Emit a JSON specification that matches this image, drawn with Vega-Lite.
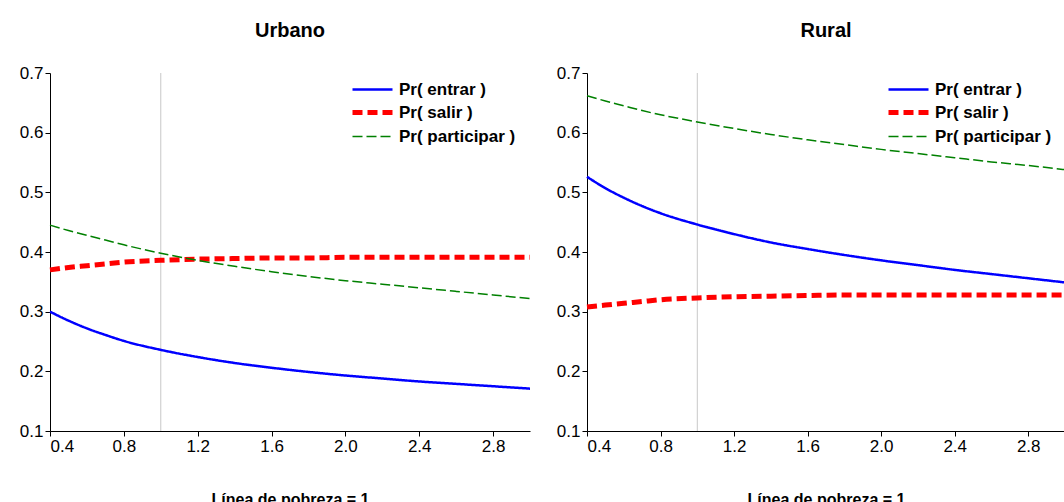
{
  "$schema": "https://vega.github.io/schema/vega-lite/v6.json",
  "padding": {"left": 19, "top": 21, "right": 0, "bottom": 0},
  "config": {
    "font": "Liberation Sans",
    "view": {"stroke": null},
    "axis": {"domainColor": "#000", "tickColor": "#000", "labelColor": "#000", "labelFontSize": 17, "grid": false, "tickSize": 5, "labelPadding": 2, "titleColor": "#000"},
    "title": {"fontSize": 20, "fontWeight": "bold", "color": "#000", "offset": 23},
    "concat": {"spacing": 16}
  },
  "datasets": {
    "ref": [{"x": 1}],
    "curvas": [
      {"zona": "Urbano", "serie": "Pr( entrar )", "x": 0.4, "p": 0.300},
      {"zona": "Urbano", "serie": "Pr( entrar )", "x": 0.5, "p": 0.285},
      {"zona": "Urbano", "serie": "Pr( entrar )", "x": 0.6, "p": 0.272},
      {"zona": "Urbano", "serie": "Pr( entrar )", "x": 0.7, "p": 0.261},
      {"zona": "Urbano", "serie": "Pr( entrar )", "x": 0.8, "p": 0.251},
      {"zona": "Urbano", "serie": "Pr( entrar )", "x": 1.0, "p": 0.236},
      {"zona": "Urbano", "serie": "Pr( entrar )", "x": 1.2, "p": 0.224},
      {"zona": "Urbano", "serie": "Pr( entrar )", "x": 1.4, "p": 0.214},
      {"zona": "Urbano", "serie": "Pr( entrar )", "x": 1.6, "p": 0.206},
      {"zona": "Urbano", "serie": "Pr( entrar )", "x": 1.8, "p": 0.199},
      {"zona": "Urbano", "serie": "Pr( entrar )", "x": 2.0, "p": 0.193},
      {"zona": "Urbano", "serie": "Pr( entrar )", "x": 2.2, "p": 0.188},
      {"zona": "Urbano", "serie": "Pr( entrar )", "x": 2.4, "p": 0.183},
      {"zona": "Urbano", "serie": "Pr( entrar )", "x": 2.6, "p": 0.179},
      {"zona": "Urbano", "serie": "Pr( entrar )", "x": 2.8, "p": 0.175},
      {"zona": "Urbano", "serie": "Pr( entrar )", "x": 3.0, "p": 0.171},
      {"zona": "Urbano", "serie": "Pr( salir )", "x": 0.4, "p": 0.370},
      {"zona": "Urbano", "serie": "Pr( salir )", "x": 0.5, "p": 0.374},
      {"zona": "Urbano", "serie": "Pr( salir )", "x": 0.6, "p": 0.377},
      {"zona": "Urbano", "serie": "Pr( salir )", "x": 0.7, "p": 0.380},
      {"zona": "Urbano", "serie": "Pr( salir )", "x": 0.8, "p": 0.383},
      {"zona": "Urbano", "serie": "Pr( salir )", "x": 1.0, "p": 0.386},
      {"zona": "Urbano", "serie": "Pr( salir )", "x": 1.2, "p": 0.388},
      {"zona": "Urbano", "serie": "Pr( salir )", "x": 1.4, "p": 0.389},
      {"zona": "Urbano", "serie": "Pr( salir )", "x": 1.6, "p": 0.390},
      {"zona": "Urbano", "serie": "Pr( salir )", "x": 1.8, "p": 0.390},
      {"zona": "Urbano", "serie": "Pr( salir )", "x": 2.0, "p": 0.391},
      {"zona": "Urbano", "serie": "Pr( salir )", "x": 2.2, "p": 0.391},
      {"zona": "Urbano", "serie": "Pr( salir )", "x": 2.4, "p": 0.391},
      {"zona": "Urbano", "serie": "Pr( salir )", "x": 2.6, "p": 0.391},
      {"zona": "Urbano", "serie": "Pr( salir )", "x": 2.8, "p": 0.391},
      {"zona": "Urbano", "serie": "Pr( salir )", "x": 3.0, "p": 0.391},
      {"zona": "Urbano", "serie": "Pr( participar )", "x": 0.4, "p": 0.445},
      {"zona": "Urbano", "serie": "Pr( participar )", "x": 0.5, "p": 0.436},
      {"zona": "Urbano", "serie": "Pr( participar )", "x": 0.6, "p": 0.428},
      {"zona": "Urbano", "serie": "Pr( participar )", "x": 0.7, "p": 0.420},
      {"zona": "Urbano", "serie": "Pr( participar )", "x": 0.8, "p": 0.412},
      {"zona": "Urbano", "serie": "Pr( participar )", "x": 1.0, "p": 0.398},
      {"zona": "Urbano", "serie": "Pr( participar )", "x": 1.2, "p": 0.386},
      {"zona": "Urbano", "serie": "Pr( participar )", "x": 1.4, "p": 0.376},
      {"zona": "Urbano", "serie": "Pr( participar )", "x": 1.6, "p": 0.367},
      {"zona": "Urbano", "serie": "Pr( participar )", "x": 1.8, "p": 0.359},
      {"zona": "Urbano", "serie": "Pr( participar )", "x": 2.0, "p": 0.352},
      {"zona": "Urbano", "serie": "Pr( participar )", "x": 2.2, "p": 0.346},
      {"zona": "Urbano", "serie": "Pr( participar )", "x": 2.4, "p": 0.340},
      {"zona": "Urbano", "serie": "Pr( participar )", "x": 2.6, "p": 0.334},
      {"zona": "Urbano", "serie": "Pr( participar )", "x": 2.8, "p": 0.328},
      {"zona": "Urbano", "serie": "Pr( participar )", "x": 3.0, "p": 0.322},
      {"zona": "Rural", "serie": "Pr( entrar )", "x": 0.4, "p": 0.526},
      {"zona": "Rural", "serie": "Pr( entrar )", "x": 0.5, "p": 0.507},
      {"zona": "Rural", "serie": "Pr( entrar )", "x": 0.6, "p": 0.491},
      {"zona": "Rural", "serie": "Pr( entrar )", "x": 0.7, "p": 0.477},
      {"zona": "Rural", "serie": "Pr( entrar )", "x": 0.8, "p": 0.465},
      {"zona": "Rural", "serie": "Pr( entrar )", "x": 1.0, "p": 0.446},
      {"zona": "Rural", "serie": "Pr( entrar )", "x": 1.2, "p": 0.430},
      {"zona": "Rural", "serie": "Pr( entrar )", "x": 1.4, "p": 0.416},
      {"zona": "Rural", "serie": "Pr( entrar )", "x": 1.6, "p": 0.405},
      {"zona": "Rural", "serie": "Pr( entrar )", "x": 1.8, "p": 0.395},
      {"zona": "Rural", "serie": "Pr( entrar )", "x": 2.0, "p": 0.386},
      {"zona": "Rural", "serie": "Pr( entrar )", "x": 2.2, "p": 0.378},
      {"zona": "Rural", "serie": "Pr( entrar )", "x": 2.4, "p": 0.370},
      {"zona": "Rural", "serie": "Pr( entrar )", "x": 2.6, "p": 0.363},
      {"zona": "Rural", "serie": "Pr( entrar )", "x": 2.8, "p": 0.356},
      {"zona": "Rural", "serie": "Pr( entrar )", "x": 3.0, "p": 0.349},
      {"zona": "Rural", "serie": "Pr( salir )", "x": 0.4, "p": 0.308},
      {"zona": "Rural", "serie": "Pr( salir )", "x": 0.5, "p": 0.311},
      {"zona": "Rural", "serie": "Pr( salir )", "x": 0.6, "p": 0.314},
      {"zona": "Rural", "serie": "Pr( salir )", "x": 0.7, "p": 0.317},
      {"zona": "Rural", "serie": "Pr( salir )", "x": 0.8, "p": 0.320},
      {"zona": "Rural", "serie": "Pr( salir )", "x": 1.0, "p": 0.323},
      {"zona": "Rural", "serie": "Pr( salir )", "x": 1.2, "p": 0.325},
      {"zona": "Rural", "serie": "Pr( salir )", "x": 1.4, "p": 0.326},
      {"zona": "Rural", "serie": "Pr( salir )", "x": 1.6, "p": 0.327},
      {"zona": "Rural", "serie": "Pr( salir )", "x": 1.8, "p": 0.328},
      {"zona": "Rural", "serie": "Pr( salir )", "x": 2.0, "p": 0.328},
      {"zona": "Rural", "serie": "Pr( salir )", "x": 2.2, "p": 0.328},
      {"zona": "Rural", "serie": "Pr( salir )", "x": 2.4, "p": 0.328},
      {"zona": "Rural", "serie": "Pr( salir )", "x": 2.6, "p": 0.328},
      {"zona": "Rural", "serie": "Pr( salir )", "x": 2.8, "p": 0.328},
      {"zona": "Rural", "serie": "Pr( salir )", "x": 3.0, "p": 0.328},
      {"zona": "Rural", "serie": "Pr( participar )", "x": 0.4, "p": 0.662},
      {"zona": "Rural", "serie": "Pr( participar )", "x": 0.5, "p": 0.653},
      {"zona": "Rural", "serie": "Pr( participar )", "x": 0.6, "p": 0.645},
      {"zona": "Rural", "serie": "Pr( participar )", "x": 0.7, "p": 0.637},
      {"zona": "Rural", "serie": "Pr( participar )", "x": 0.8, "p": 0.630},
      {"zona": "Rural", "serie": "Pr( participar )", "x": 1.0, "p": 0.618},
      {"zona": "Rural", "serie": "Pr( participar )", "x": 1.2, "p": 0.607},
      {"zona": "Rural", "serie": "Pr( participar )", "x": 1.4, "p": 0.597},
      {"zona": "Rural", "serie": "Pr( participar )", "x": 1.6, "p": 0.588},
      {"zona": "Rural", "serie": "Pr( participar )", "x": 1.8, "p": 0.580},
      {"zona": "Rural", "serie": "Pr( participar )", "x": 2.0, "p": 0.572},
      {"zona": "Rural", "serie": "Pr( participar )", "x": 2.2, "p": 0.565},
      {"zona": "Rural", "serie": "Pr( participar )", "x": 2.4, "p": 0.558},
      {"zona": "Rural", "serie": "Pr( participar )", "x": 2.6, "p": 0.551},
      {"zona": "Rural", "serie": "Pr( participar )", "x": 2.8, "p": 0.545},
      {"zona": "Rural", "serie": "Pr( participar )", "x": 3.0, "p": 0.538}
    ]
  },
  "hconcat": [
    {
      "title": "Urbano",
      "width": 480,
      "height": 358,
      "layer": [
        {
          "data": {"name": "ref"},
          "mark": {"type": "rule", "color": "#c8c8c8", "strokeWidth": 1},
          "encoding": {"x": {"field": "x", "type": "quantitative", "scale": {"domain": [0.4, 3.0], "nice": false, "zero": false}}}
        },
        {
          "data": {"name": "curvas"},
          "transform": [{"filter": "datum.zona === 'Urbano'"}],
          "mark": {"type": "line", "interpolate": "monotone"},
          "encoding": {
            "x": {"field": "x", "type": "quantitative", "scale": {"domain": [0.4, 3.0], "nice": false, "zero": false}, "axis": {"values": [0.4, 0.8, 1.2, 1.6, 2.0, 2.4, 2.8], "format": ".1f", "title": "Línea de pobreza = 1", "titleFontSize": 16, "titleFontWeight": "bold", "titlePadding": 37}},
            "y": {"field": "p", "type": "quantitative", "scale": {"domain": [0.1, 0.7], "nice": false, "zero": false}, "axis": {"values": [0.1, 0.2, 0.3, 0.4, 0.5, 0.6, 0.7], "format": ".1f", "title": null}},
            "color": {"field": "serie", "type": "nominal", "scale": {"domain": ["Pr( entrar )", "Pr( salir )", "Pr( participar )"], "range": ["#0000ff", "#ff0000", "#008000"]}, "legend": {"title": null, "orient": "none", "legendX": 314, "legendY": 8, "symbolType": "M-4,0H4", "symbolSize": 100, "labelOffset": 18, "labelFontSize": 17, "labelFontWeight": "bold", "labelColor": "#000", "rowPadding": 4}},
            "strokeDash": {"field": "serie", "type": "nominal", "scale": {"domain": ["Pr( entrar )", "Pr( salir )", "Pr( participar )"], "range": [[1, 0], [10, 5], [10, 4]]}, "legend": {"title": null, "orient": "none", "legendX": 314, "legendY": 8, "symbolType": "M-4,0H4", "symbolSize": 100, "labelOffset": 18, "labelFontSize": 17, "labelFontWeight": "bold", "labelColor": "#000", "rowPadding": 4}},
            "strokeWidth": {"field": "serie", "type": "nominal", "scale": {"type": "ordinal", "domain": ["Pr( entrar )", "Pr( salir )", "Pr( participar )"], "range": [2.5, 5, 1.5]}, "legend": {"title": null, "orient": "none", "legendX": 314, "legendY": 8, "symbolType": "M-4,0H4", "symbolSize": 100, "labelOffset": 18, "labelFontSize": 17, "labelFontWeight": "bold", "labelColor": "#000", "rowPadding": 4}}
          }
        }
      ]
    },
    {
      "title": "Rural",
      "width": 478,
      "height": 358,
      "layer": [
        {
          "data": {"name": "ref"},
          "mark": {"type": "rule", "color": "#c8c8c8", "strokeWidth": 1},
          "encoding": {"x": {"field": "x", "type": "quantitative", "scale": {"domain": [0.4, 3.0], "nice": false, "zero": false}}}
        },
        {
          "data": {"name": "curvas"},
          "transform": [{"filter": "datum.zona === 'Rural'"}],
          "mark": {"type": "line", "interpolate": "monotone"},
          "encoding": {
            "x": {"field": "x", "type": "quantitative", "scale": {"domain": [0.4, 3.0], "nice": false, "zero": false}, "axis": {"values": [0.4, 0.8, 1.2, 1.6, 2.0, 2.4, 2.8], "format": ".1f", "title": "Línea de pobreza = 1", "titleFontSize": 16, "titleFontWeight": "bold", "titlePadding": 37}},
            "y": {"field": "p", "type": "quantitative", "scale": {"domain": [0.1, 0.7], "nice": false, "zero": false}, "axis": {"values": [0.1, 0.2, 0.3, 0.4, 0.5, 0.6, 0.7], "format": ".1f", "title": null}},
            "color": {"field": "serie", "type": "nominal", "scale": {"domain": ["Pr( entrar )", "Pr( salir )", "Pr( participar )"], "range": ["#0000ff", "#ff0000", "#008000"]}, "legend": {"title": null, "orient": "none", "legendX": 313, "legendY": 8, "symbolType": "M-4,0H4", "symbolSize": 100, "labelOffset": 18, "labelFontSize": 17, "labelFontWeight": "bold", "labelColor": "#000", "rowPadding": 4}},
            "strokeDash": {"field": "serie", "type": "nominal", "scale": {"domain": ["Pr( entrar )", "Pr( salir )", "Pr( participar )"], "range": [[1, 0], [10, 5], [10, 4]]}, "legend": {"title": null, "orient": "none", "legendX": 313, "legendY": 8, "symbolType": "M-4,0H4", "symbolSize": 100, "labelOffset": 18, "labelFontSize": 17, "labelFontWeight": "bold", "labelColor": "#000", "rowPadding": 4}},
            "strokeWidth": {"field": "serie", "type": "nominal", "scale": {"type": "ordinal", "domain": ["Pr( entrar )", "Pr( salir )", "Pr( participar )"], "range": [2.5, 5, 1.5]}, "legend": {"title": null, "orient": "none", "legendX": 313, "legendY": 8, "symbolType": "M-4,0H4", "symbolSize": 100, "labelOffset": 18, "labelFontSize": 17, "labelFontWeight": "bold", "labelColor": "#000", "rowPadding": 4}}
          }
        }
      ]
    }
  ],
  "resolve": {"scale": {"color": "independent", "strokeDash": "independent", "strokeWidth": "independent"}, "legend": {"color": "independent", "strokeDash": "independent", "strokeWidth": "independent"}}
}
